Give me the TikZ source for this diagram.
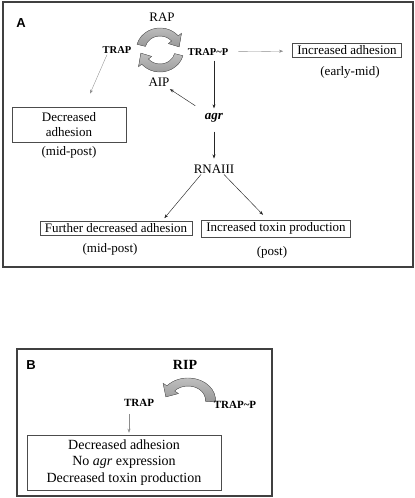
\documentclass[tikz,border=0pt]{standalone}
\usepackage{fontspec}
\setmainfont{Liberation Serif}
\setsansfont{Liberation Sans}
\usetikzlibrary{arrows.meta}

\tikzset{
  txt/.style={font=\fontsize{13}{15}\selectfont, inner sep=1pt},
  tag/.style={font=\bfseries\fontsize{10.5}{12}\selectfont, inner sep=1pt},
  panel/.style={font=\sffamily\bfseries\fontsize{13}{15}\selectfont, inner sep=0pt},
  outcome/.style={txt, draw=black!70, line width=0.6pt, inner xsep=5pt, inner ysep=2.5pt},
  frame/.style={draw=black!75, line width=1.1pt},
  link/.style={-{Stealth[length=4pt,width=3pt]}, line width=0.45pt, black!85},
  faint/.style={-{Stealth[length=4pt,width=3pt]}, line width=0.35pt, black!45},
  turn/.style={top color=gray!50, bottom color=gray!80, draw=black!60, line width=0.4pt},
}

\newcommand{\turnarrow}[3]{%
  \filldraw[turn] (#1:22pt) arc[start angle=#1, end angle=#2, radius=22pt]
    -- (#2:26pt) -- (#3:18pt) -- (#2:10pt) -- (#2:14pt)
    arc[start angle=#2, end angle=#1, radius=14pt] -- cycle;}

\begin{document}
\begin{tikzpicture}[x=1pt, y=1pt]
	\useasboundingbox (0, 0) rectangle (415, -498);

	\draw[frame] (3, -2) rectangle (413, -267);
	\node[panel] (labA) at (21, -23) {A};

	\begin{scope}[shift={(160, -50)}, xscale=1.08]
		\turnarrow{165}{40}{10}
		\turnarrow{-15}{-140}{-170}
	\end{scope}

	\node[txt] (rap) at (162, -17) {RAP};
	\node[tag] (trap) at (117, -50) {TRAP};
	\node[tag] (trapp) at (208, -52) {TRAP\textasciitilde P};
	\node[txt] (aip) at (159, -82) {AIP};
	\node[txt, font=\bfseries\itshape\fontsize{13}{15}\selectfont] (agr) at (214, -118) {agr};
	\node[txt] (rna) at (214, -169) {RNAIII};

	\node[outcome] (incadh) at (347, -50.5) {Increased adhesion};
	\node[txt] (early) at (350, -72) {(early-mid)};
	\node[outcome, align=center, minimum width=114pt, minimum height=35pt] (decadh) at (69, -124.5) {Decreased\\adhesion};
	\node[txt] (midpostA) at (69, -152) {(mid-post)};
	\node[outcome] (further) at (116, -228.5) {Further decreased adhesion};
	\node[txt] (midpostB) at (110, -249) {(mid-post)};
	\node[outcome] (toxin) at (276, -228.5) {Increased toxin production};
	\node[txt] (post) at (272, -252) {(post)};

	\draw[faint, shorten <=9pt, shorten >=9pt] (trapp) -- (incadh);
	\draw[faint] ([xshift=-10pt]trap.south) -- ([xshift=21pt, yshift=13pt]decadh.north);
	\draw[link, shorten <=4pt, shorten >=4pt] (trapp.south -| agr.north) -- (agr.north);
	\draw[link, shorten <=12pt, shorten >=3pt] (agr) -- (aip);
	\draw[link, shorten <=8pt, shorten >=5pt] (agr.south) -- (rna.north);
	\draw[link] ([xshift=-13pt]rna.south) -- ([xshift=-28pt, yshift=3pt]further.north east);
	\draw[link] ([xshift=10pt]rna.south) -- ([xshift=-13pt, yshift=5pt]toxin.north);

	\draw[frame] (17, -349) rectangle (272, -496);
	\node[panel] (labB) at (31, -365) {B};

	\begin{scope}[shift={(188, -400)}, xscale=1.25]
		\turnarrow{-5}{140}{170}
	\end{scope}

	\node[tag, font=\bfseries\fontsize{14}{16}\selectfont] (rip) at (185, -365) {RIP};
	\node[tag, font=\bfseries\fontsize{11}{13}\selectfont] (trapB) at (139, -403) {TRAP};
	\node[tag, font=\bfseries\fontsize{11}{13}\selectfont] (trappB) at (235, -405) {TRAP\textasciitilde P};
	\node[outcome, font=\fontsize{14}{16.5}\selectfont, align=center, minimum width=194pt, minimum height=55pt] (nobox) at (124, -462.5) {Decreased adhesion\\No \textit{agr} expression\\Decreased toxin production};

	\draw[faint, shorten <=6pt, shorten >=2pt] ([xshift=-10pt]trapB.south) -- ([xshift=5pt]nobox.north);

\end{tikzpicture}
\end{document}
